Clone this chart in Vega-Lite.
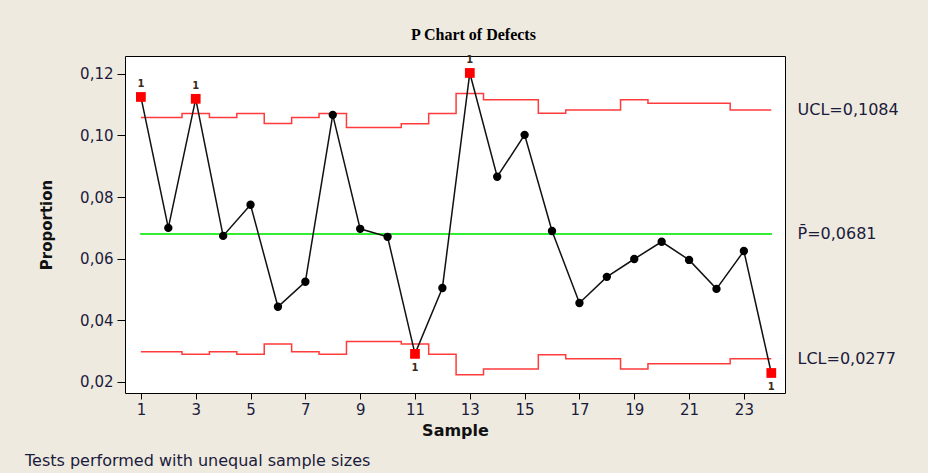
{
  "$schema": "https://vega.github.io/schema/vega-lite/v6.json",
  "width": 660,
  "height": 337,
  "autosize": {"type": "none"},
  "padding": {"left": 125, "top": 56, "right": 143, "bottom": 80},
  "background": "#EEEAE0",
  "config": {
    "view": {"stroke": "#000000", "strokeWidth": 1, "fill": "#FFFFFF"},
    "axis": {
      "labelFont": "DejaVu Sans",
      "labelFontSize": 15,
      "labelColor": "#1b1b3b",
      "titleFont": "DejaVu Sans",
      "titleColor": "#111111",
      "tickColor": "#000000",
      "grid": false,
      "domain": false
    }
  },
  "title": {
    "text": "Tests performed with unequal sample sizes",
    "orient": "bottom",
    "anchor": "start",
    "frame": "group",
    "dx": -100,
    "offset": 15,
    "font": "DejaVu Sans",
    "fontSize": 16,
    "fontWeight": "normal",
    "color": "#1b1b3b"
  },
  "data": {
    "values": [
      {"s": 1, "p": 0.1125, "ucl": 0.1058, "lcl": 0.0298},
      {"s": 2, "p": 0.0700, "ucl": 0.1058, "lcl": 0.0298},
      {"s": 3, "p": 0.1119, "ucl": 0.1071, "lcl": 0.0290},
      {"s": 4, "p": 0.0674, "ucl": 0.1058, "lcl": 0.0298},
      {"s": 5, "p": 0.0775, "ucl": 0.1071, "lcl": 0.0290},
      {"s": 6, "p": 0.0444, "ucl": 0.1039, "lcl": 0.0323},
      {"s": 7, "p": 0.0525, "ucl": 0.1058, "lcl": 0.0298},
      {"s": 8, "p": 0.1067, "ucl": 0.1071, "lcl": 0.0290},
      {"s": 9, "p": 0.0697, "ucl": 0.1026, "lcl": 0.0331},
      {"s": 10, "p": 0.0671, "ucl": 0.1026, "lcl": 0.0331},
      {"s": 11, "p": 0.0291, "ucl": 0.1038, "lcl": 0.0323},
      {"s": 12, "p": 0.0505, "ucl": 0.1071, "lcl": 0.0290},
      {"s": 13, "p": 0.1203, "ucl": 0.1136, "lcl": 0.0223},
      {"s": 14, "p": 0.0866, "ucl": 0.1116, "lcl": 0.0242},
      {"s": 15, "p": 0.1002, "ucl": 0.1116, "lcl": 0.0242},
      {"s": 16, "p": 0.0690, "ucl": 0.1072, "lcl": 0.0288},
      {"s": 17, "p": 0.0456, "ucl": 0.1083, "lcl": 0.0275},
      {"s": 18, "p": 0.0541, "ucl": 0.1083, "lcl": 0.0275},
      {"s": 19, "p": 0.0599, "ucl": 0.1116, "lcl": 0.0242},
      {"s": 20, "p": 0.0655, "ucl": 0.1105, "lcl": 0.0259},
      {"s": 21, "p": 0.0596, "ucl": 0.1105, "lcl": 0.0259},
      {"s": 22, "p": 0.0502, "ucl": 0.1105, "lcl": 0.0259},
      {"s": 23, "p": 0.0625, "ucl": 0.1083, "lcl": 0.0275},
      {"s": 24, "p": 0.0229, "ucl": 0.1083, "lcl": 0.0275}
    ]
  },
  "layer": [
    {
      "encoding": {
        "x": {
          "field": "s", "type": "quantitative",
          "scale": {"domain": [0.42, 24.5], "nice": false, "zero": false},
          "axis": {
            "orient": "bottom",
            "values": [1, 3, 5, 7, 9, 11, 13, 15, 17, 19, 21, 23],
            "tickSize": 6,
            "labelPadding": 3,
            "title": "Sample",
            "titleFontSize": 16,
            "titleFontWeight": "bold",
            "titlePadding": 5
          }
        },
        "y": {
          "field": "p", "type": "quantitative",
          "scale": {"domain": [0.0164, 0.1258], "nice": false, "zero": false},
          "axis": {
            "orient": "left",
            "values": [0.02, 0.04, 0.06, 0.08, 0.1, 0.12],
            "labelExpr": "replace(format(datum.value, '.2f'), '.', ',')",
            "tickSize": 8,
            "labelPadding": 4,
            "title": "Proportion",
            "titleFontSize": 15,
            "titleFontWeight": "bold",
            "titlePadding": 25
          }
        }
      },
      "layer": [
        {
          "mark": {"type": "line", "interpolate": "step", "color": "#FF3B3B", "strokeWidth": 1.5},
          "encoding": {"y": {"field": "ucl", "type": "quantitative"}}
        },
        {
          "mark": {"type": "line", "interpolate": "step", "color": "#FF3B3B", "strokeWidth": 1.5},
          "encoding": {"y": {"field": "lcl", "type": "quantitative"}}
        },
        {
          "mark": {"type": "rule", "color": "#33EE33", "strokeWidth": 1.5},
          "encoding": {
            "x": {"datum": 1},
            "x2": {"datum": 24},
            "y": {"datum": 0.0681}
          }
        },
        {
          "mark": {"type": "line", "color": "#111111", "strokeWidth": 1.5}
        },
        {
          "transform": [{"filter": "datum.p <= datum.ucl && datum.p >= datum.lcl"}],
          "mark": {"type": "point", "shape": "circle", "filled": true, "color": "#000000", "size": 70, "opacity": 1}
        },
        {
          "transform": [{"filter": "datum.p > datum.ucl || datum.p < datum.lcl"}],
          "mark": {"type": "point", "shape": "square", "filled": true, "color": "#FF0000", "size": 95, "opacity": 1}
        },
        {
          "transform": [{"filter": "datum.p > datum.ucl"}],
          "mark": {"type": "text", "text": "1", "dy": -13, "font": "DejaVu Sans", "fontSize": 10, "fontWeight": "bold", "color": "#3a2a1a"}
        },
        {
          "transform": [{"filter": "datum.p < datum.lcl"}],
          "mark": {"type": "text", "text": "1", "dy": 14, "font": "DejaVu Sans", "fontSize": 10, "fontWeight": "bold", "color": "#3a2a1a"}
        }
      ]
    },
    {
      "mark": {"type": "point", "opacity": 0},
      "encoding": {
        "x": {
          "field": "s", "type": "quantitative",
          "scale": {"domain": [0.42, 24.5], "nice": false, "zero": false},
          "axis": {
            "orient": "top",
            "labels": false,
            "ticks": false,
            "domain": false,
            "title": "P Chart of Defects",
            "titleFont": "Liberation Serif",
            "titleFontSize": 16,
            "titleFontWeight": "bold",
            "titleColor": "#000000",
            "titlePadding": 14,
            "titleX": 348
          }
        },
        "y": {
          "field": "p", "type": "quantitative",
          "scale": {"domain": [0.0164, 0.1258], "nice": false, "zero": false},
          "axis": {
            "orient": "right",
            "values": [0.1084, 0.0681, 0.0277],
            "labelExpr": "datum.value > 0.1 ? 'UCL=0,1084' : (datum.value > 0.05 ? 'P\u0304=0,0681' : 'LCL=0,0277')",
            "ticks": false,
            "domain": false,
            "labelPadding": 12,
            "labelFontSize": 16,
            "labelAlign": "left",
            "title": null
          }
        }
      }
    }
  ],
  "resolve": {"scale": {"x": "independent", "y": "independent"}, "axis": {"x": "independent", "y": "independent"}}
}
